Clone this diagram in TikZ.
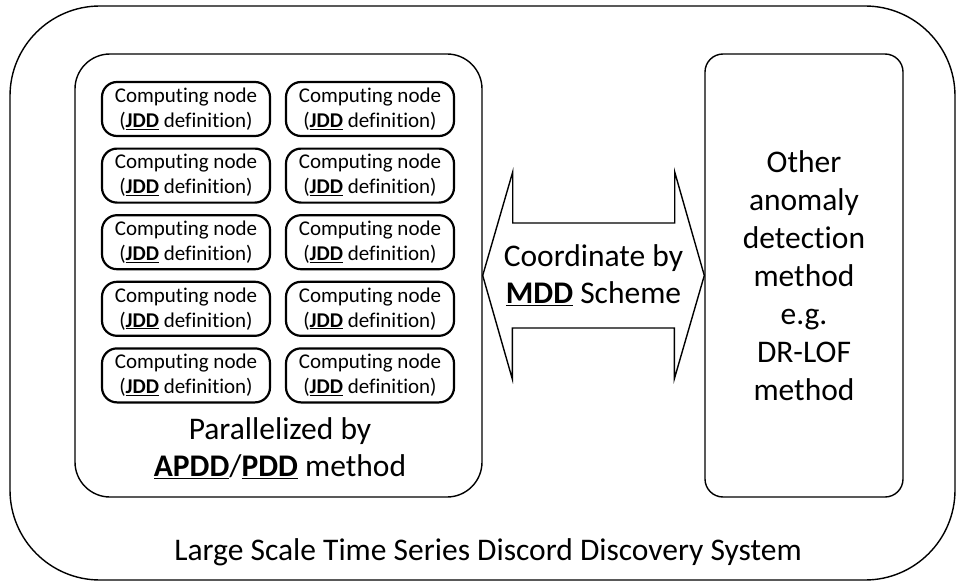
\documentclass[tikz,border=0pt]{standalone}
\usepackage{fontspec}
\setmainfont{Carlito}[Ligatures={NoCommon}]
\usetikzlibrary{calc}
\newcommand\ubf[1]{\underline{\textbf{#1}}}
\tikzset{
  sysbox/.style={draw, line width=1.4pt, rounded corners=90pt, minimum width=945pt, minimum height=574pt, inner sep=0pt},
  groupbox/.style={draw, line width=1.4pt, rounded corners=35pt, inner sep=0pt},
  otherbox/.style={draw, line width=1.4pt, rounded corners=18pt, inner sep=0pt, align=center,
    font=\fontsize{31.5}{38}\selectfont},
  cnode/.style={draw, line width=2.2pt, rounded corners=15pt, minimum width=168pt, minimum height=54pt,
    inner sep=0pt, align=center, font=\fontsize{21}{25}\selectfont},
  bigtext/.style={align=center, font=\fontsize{31.5}{37}\selectfont, inner sep=0pt},
  arrowshape/.style={draw, line width=1.4pt, line join=miter}
}
\begin{document}
\begin{tikzpicture}[x=1pt,y=-1pt]
\useasboundingbox (0,0) rectangle (958,583);

% outer system frame and its caption
\node[sysbox] (system) at (482.5,293) {};
\node[bigtext, anchor=base] (systitle) at (488,560) {Large Scale Time Series Discord Discovery System};

% group of computing nodes
\node[groupbox, minimum width=407pt, minimum height=443pt] (group) at (278.5,275.5) {};
\foreach \r in {0,...,4}{
  \node[cnode] (c\r a) at (186,109+66.6*\r) {Computing node\\(\ubf{JDD} definition)};
  \node[cnode] (c\r b) at (370,109+66.6*\r) {Computing node\\(\ubf{JDD} definition)};
}
\node[bigtext] (partext) at (280,448) {Parallelized by\\\ubf{APDD}/\ubf{PDD} method};

% other method box
\node[otherbox, minimum width=198pt, minimum height=443pt] (other) at (804,275.5)
  {Other\\anomaly\\detection\\method\\e.g.\\DR-LOF\\method};

% double-headed coordination arrow between the two boxes
\coordinate (tipL) at (group.east |- 0,275.5);
\coordinate (tipR) at (other.west |- 0,275.5);
\draw[arrowshape] (tipL) -- ++(30,-103.5) -- ++(0,51) -- ++(162,0) -- ++(0,-51) -- (tipR)
  -- ++(-30,103.5) -- ++(0,-51) -- ++(-162,0) -- ++(0,51) -- cycle;
\node[bigtext] (coordtext) at ($(tipL)!0.5!(tipR)$) {Coordinate by\\\ubf{MDD} Scheme};
\end{tikzpicture}
\end{document}
